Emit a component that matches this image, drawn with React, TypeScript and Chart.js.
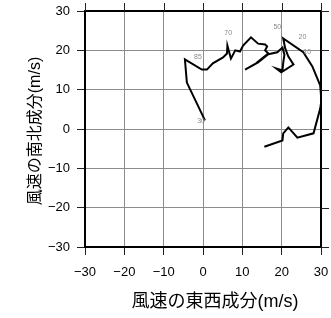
import React, { useEffect, useRef } from "react";
import { Chart, registerables } from "chart.js";

Chart.register(...registerables);

// Hodograph: east-west (u) and north-south (v) wind components, m/s
const windU = [
  0.5, -4.1, -4.6, -0.3, 1.0, 2.5, 5.1, 6.1, 6.2, 7.1, 8.2, 9.4, 10.2, 12.2, 14.0,
  15.8, 16.3, 15.8, 16.6, 15.3, 13.5, 10.7, 14.0, 16.6, 18.9, 20.2, 20.7, 20.4,
  20.2, 18.6, 19.9, 23.0, 21.7, 20.9, 20.4, 25.5, 27.8, 29.8, 30.1, 29.8, 28.1,
  24.0, 21.7, 20.4, 20.2, 15.6,
];
const windV = [
  2.2, 11.8, 17.7, 15.1, 15.1, 16.7, 18.2, 19.2, 21.2, 17.9, 20.0, 19.7, 21.2, 23.3,
  21.7, 21.5, 21.0, 20.0, 19.2, 18.2, 16.7, 15.1, 16.9, 19.0, 19.5, 20.7, 18.9,
  16.9, 14.9, 15.4, 14.4, 16.4, 18.4, 20.5, 23.0, 19.5, 15.9, 11.1, 7.2, 5.2, -1.1,
  -2.2, 0.4, -1.1, -2.9, -4.5,
];

// level labels placed beside the curve
const levelText = ["30", "85", "70", "50", "20", "10"];
const levelU = [-0.5, -1.3, 6.4, 18.9, 25.3, 26.5];
const levelV = [1.9, 18.2, 24.3, 25.8, 23.5, 19.5];

const tickValues = [-30, -20, -10, 0, 10, 20, 30];
const axisMin = -30;
const axisMax = 30;
const xTitle = "風速の東西成分(m/s)";
const yTitle = "風速の南北成分(m/s)";

const fmt = (v: number) => (v < 0 ? "\u2212" + Math.abs(v) : String(v));

const zeroPad = (s: any) => {
  s.paddingLeft = 0;
  s.paddingRight = 0;
  s.paddingTop = 0;
  s.paddingBottom = 0;
};

export default function App() {
  const ref = useRef<HTMLCanvasElement | null>(null);

  useEffect(() => {
    if (!ref.current) return;
    const points = windU.map((u, i) => ({ x: u, y: windV[i] }));

    const framePlugin = {
      id: "frame",
      afterDraw(chart: any) {
        const { ctx, chartArea } = chart;
        const xs = chart.scales.x;
        const ys = chart.scales.y;
        ctx.save();
        // level labels
        ctx.fillStyle = "#8a8a8a";
        ctx.font = "7px 'Liberation Sans', sans-serif";
        ctx.textAlign = "center";
        ctx.textBaseline = "middle";
        levelText.forEach((t, i) => {
          ctx.fillText(t, xs.getPixelForValue(levelU[i]), ys.getPixelForValue(levelV[i]));
        });
        // frame
        ctx.strokeStyle = "#000";
        ctx.lineWidth = 2;
        ctx.strokeRect(
          chartArea.left,
          chartArea.top,
          chartArea.right - chartArea.left,
          chartArea.bottom - chartArea.top
        );
        // ticks on top and right
        ctx.lineWidth = 1;
        ctx.strokeStyle = "#222";
        tickValues.forEach((v) => {
          const px = Math.round(xs.getPixelForValue(v)) + 0.5;
          ctx.beginPath();
          ctx.moveTo(px, chartArea.top - 8);
          ctx.lineTo(px, chartArea.top);
          ctx.stroke();
          const py = Math.round(ys.getPixelForValue(v)) + 0.5;
          ctx.beginPath();
          ctx.moveTo(chartArea.right, py);
          ctx.lineTo(chartArea.right + 8, py);
          ctx.stroke();
        });
        // titles
        ctx.fillStyle = "#000";
        ctx.textAlign = "center";
        ctx.textBaseline = "middle";
        ctx.font = "18px 'Liberation Sans', 'Noto Sans CJK JP', sans-serif";
        const cx = (chartArea.left + chartArea.right) / 2 + 12;
        ctx.fillText(xTitle, cx, chartArea.bottom + 55);
        ctx.font = "16px 'Liberation Sans', 'Noto Sans CJK JP', sans-serif";
        ctx.translate(36, (chartArea.top + chartArea.bottom) / 2 + 2);
        ctx.rotate(-Math.PI / 2);
        ctx.fillText(yTitle, 0, 0);
        ctx.restore();
      },
    };

    const tickFont = { family: "'Liberation Sans', sans-serif", size: 13 };

    const chart = new Chart(ref.current, {
      type: "scatter",
      data: {
        datasets: [
          {
            data: points,
            showLine: true,
            borderColor: "#000",
            borderWidth: 2,
            pointRadius: 0,
            tension: 0,
            fill: false,
          },
        ],
      },
      options: {
        responsive: false,
        animation: false,
        events: [],
        layout: { padding: { left: 0, top: 11, right: 10, bottom: 0 } },
        plugins: { legend: { display: false }, tooltip: { enabled: false } },
        scales: {
          x: {
            type: "linear",
            min: axisMin,
            max: axisMax,
            afterFit: (s: any) => {
              s.height = 71;
              zeroPad(s);
            },
            afterBuildTicks: (s: any) => {
              s.ticks = tickValues.map((v) => ({ value: v }));
            },
            ticks: {
              callback: (v: any) => fmt(Number(v)),
              color: "#000",
              font: tickFont,
              padding: 10,
              maxRotation: 0,
            },
            grid: { color: "#8c8c8c", lineWidth: 1, tickLength: 8, tickColor: "#222" },
            border: { display: false },
          },
          y: {
            type: "linear",
            min: axisMin,
            max: axisMax,
            afterFit: (s: any) => {
              s.width = 85;
              zeroPad(s);
            },
            afterBuildTicks: (s: any) => {
              s.ticks = tickValues.map((v) => ({ value: v }));
            },
            ticks: {
              callback: (v: any) => fmt(Number(v)),
              color: "#000",
              font: tickFont,
              padding: 7,
            },
            grid: { color: "#8c8c8c", lineWidth: 1, tickLength: 8, tickColor: "#222" },
            border: { display: false },
          },
        },
      },
      plugins: [framePlugin],
    });
    return () => chart.destroy();
  }, []);

  return (
    <div style={{ position: "fixed", left: 0, top: 0, width: 331, height: 318, background: "#fff" }}>
      <canvas ref={ref} width={331} height={318} style={{ display: "block" }} />
    </div>
  );
}
